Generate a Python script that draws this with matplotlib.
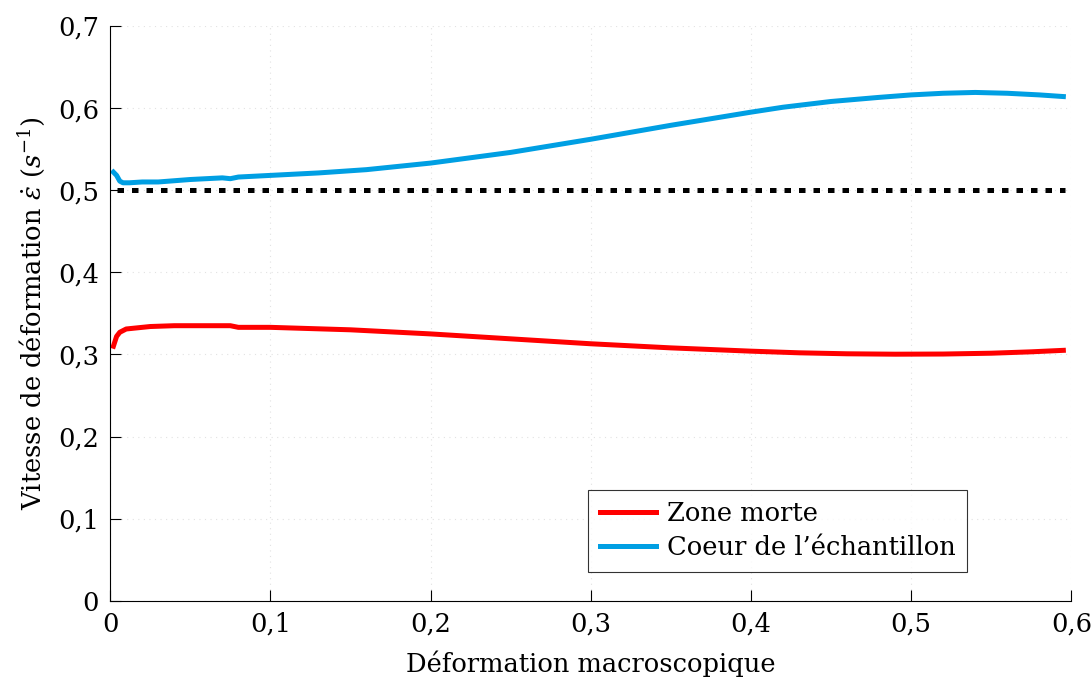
import numpy as np
import matplotlib
matplotlib.use("Agg")
import matplotlib.pyplot as plt
from matplotlib.ticker import FuncFormatter

# data
x_coeur = [0.002, 0.004, 0.006, 0.008, 0.012, 0.02, 0.03, 0.05, 0.07, 0.075, 0.08,
           0.1, 0.13, 0.16, 0.2, 0.25, 0.3, 0.35, 0.4, 0.42, 0.45, 0.48, 0.5, 0.52,
           0.54, 0.56, 0.58, 0.595]
y_coeur = [0.522, 0.518, 0.511, 0.509, 0.509, 0.510, 0.510, 0.513, 0.515, 0.514, 0.516,
           0.518, 0.521, 0.525, 0.533, 0.546, 0.562, 0.579, 0.595, 0.601, 0.608, 0.613,
           0.616, 0.618, 0.619, 0.618, 0.616, 0.614]

x_morte = [0.002, 0.004, 0.006, 0.01, 0.015, 0.025, 0.04, 0.06, 0.07, 0.075, 0.08,
           0.1, 0.15, 0.2, 0.25, 0.3, 0.35, 0.4, 0.43, 0.46, 0.49, 0.52, 0.55, 0.575, 0.595]
y_morte = [0.310, 0.322, 0.327, 0.331, 0.332, 0.334, 0.335, 0.335, 0.335, 0.335, 0.333,
           0.333, 0.330, 0.325, 0.319, 0.313, 0.308, 0.304, 0.302, 0.3008, 0.3003, 0.3005,
           0.3015, 0.3032, 0.305]

x_ref = [0.004, 0.596]
y_ref = [0.5, 0.5]

xticks = [0, 0.1, 0.2, 0.3, 0.4, 0.5, 0.6]
yticks = [0, 0.1, 0.2, 0.3, 0.4, 0.5, 0.6, 0.7]

plt.rcParams['font.family'] = ['DejaVu Serif']
plt.rcParams['mathtext.fontset'] = 'dejavuserif'

fig = plt.figure(figsize=(10.91, 6.82), dpi=100)
ax = fig.add_axes([0.101, 0.119, 0.881, 0.843])

ax.plot(x_ref, y_ref, color='black', lw=3.6, linestyle=(0, (1.3, 1.6)), solid_capstyle='butt')
ax.plot(x_morte, y_morte, color='#ff0000', lw=3.6, label='Zone morte')
ax.plot(x_coeur, y_coeur, color='#009fe3', lw=3.6, label="Coeur de l\u2019\u00e9chantillon")

ax.set_xlim(0, 0.6)
ax.set_ylim(0, 0.7)
ax.set_xticks(xticks)
ax.set_yticks(yticks)

fmt = FuncFormatter(lambda v, p: ('%g' % round(v, 2)).replace('.', ','))
ax.xaxis.set_major_formatter(fmt)
ax.yaxis.set_major_formatter(fmt)

ax.tick_params(direction='in', length=8, width=0.8, labelsize=18.5, pad=8)
ax.spines['top'].set_visible(False)
ax.spines['right'].set_visible(False)
ax.grid(True, linestyle=(0, (1, 4)), color='#e2e2e2', lw=0.8)

ax.set_xlabel('D\u00e9formation macroscopique', fontsize=18.5, labelpad=10)
ax.set_ylabel('Vitesse de d\u00e9formation $\\dot{\\varepsilon}$ ($s^{-1}$)', fontsize=18.5, labelpad=8)

leg = ax.legend(loc='lower left', bbox_to_anchor=(0.4974, 0.0504), borderaxespad=0,
                fontsize=18.5, frameon=True, fancybox=False, edgecolor='black',
                handlelength=2.2, borderpad=0.45, labelspacing=0.35, handletextpad=0.4)
leg.get_frame().set_linewidth(0.8)

fig.savefig('out.png', dpi=100)
